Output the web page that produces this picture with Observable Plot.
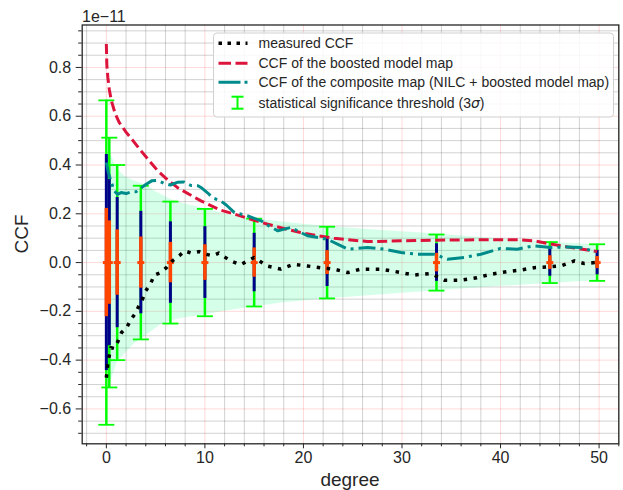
<!DOCTYPE html>
<html><head><meta charset="utf-8">
<script src="https://cdn.jsdelivr.net/npm/d3@7"></script>
<script src="https://cdn.jsdelivr.net/npm/@observablehq/plot@0.6"></script>
<style>
body{margin:0;background:#fff;}
#wrap{position:relative;width:623px;height:490px;font-family:"Liberation Sans",Arial,sans-serif;}
#overlay{position:absolute;left:0;top:0;pointer-events:none;}
</style></head><body><div id="wrap"></div>
<script>
// ---- data (units of 1e-11) ----
const measuredX = [0,0.18,0.46,0.8,1.2,1.54,2.1,2.5,3.0,3.3,3.67,4.0,4.5,4.85,5.5,6.1,6.7,7.4,7.96,8.6,9.4,10.1,10.8,11.4,12.6,13.6,15.0,16.3,17.7,19.0,20.4,21.7,23.1,24.5,25.8,27.9,29.9,31.2,32.9,34.3,36.0,37.6,39.0,40.7,42.0,43.4,44.8,46.1,47.5,48.5,49.6];
const measuredY = [-0.472,-0.404,-0.349,-0.352,-0.321,-0.287,-0.264,-0.233,-0.205,-0.178,-0.150,-0.116,-0.086,-0.052,-0.041,-0.021,0.007,0.028,0.048,0.039,0.045,0.034,0.028,0.039,0.007,-0.009,0.021,-0.014,-0.027,-0.007,-0.014,-0.021,-0.027,-0.041,-0.027,-0.027,-0.041,-0.051,-0.045,-0.072,-0.072,-0.062,-0.048,-0.037,-0.031,-0.021,-0.018,-0.014,0.007,-0.004,0.0];

const boostedX = [0,0.05,0.15,0.3,0.5,0.9,1.3,2.0,2.8,3.5,4.3,5.2,6.2,7.2,8.4,9.6,11.6,13,14.6,16.3,18,19.7,21.4,23.1,26.5,29.9,33.3,36.6,40,42,43.4,45.1,46.8,48.3,49.8];
const boostedY = [0.896,0.81,0.76,0.71,0.665,0.61,0.575,0.535,0.495,0.459,0.42,0.377,0.34,0.308,0.28,0.253,0.215,0.199,0.178,0.158,0.14,0.123,0.11,0.100,0.086,0.089,0.092,0.093,0.094,0.093,0.089,0.076,0.064,0.055,0.045];

const compositeX = [0,0.2,0.46,0.8,1.13,1.5,2.0,2.5,3.0,3.5,4.0,4.6,5.2,5.9,6.5,7.2,7.9,8.6,9.3,9.6,10.3,10.8,11.6,12.2,13.0,14.3,15.7,16.5,17.4,18.7,20.4,22.4,23.5,24.5,26.5,28.2,29.9,31.6,33.3,34.6,36.3,38.0,40.0,41.7,43.4,45.1,46.8,48.1,49.6];
const compositeY = [0.41,0.37,0.335,0.294,0.28,0.287,0.283,0.29,0.29,0.305,0.32,0.335,0.337,0.324,0.318,0.329,0.33,0.316,0.315,0.308,0.285,0.265,0.253,0.235,0.205,0.192,0.171,0.15,0.130,0.144,0.110,0.096,0.075,0.055,0.062,0.055,0.041,0.034,0.034,0.014,0.021,0.034,0.058,0.055,0.069,0.062,0.064,0.062,0.045];

const bandX     = [0.3,0.6,1.1,2.0,2.8,3.5,4.2,5.0,5.5,6.5,7.5,8.5,9.6,12,14.8,18,22.4,28,33.6,39,44.9,49.8];
const bandUpper = [0.46,0.43,0.385,0.35,0.335,0.325,0.315,0.29,0.281,0.26,0.246,0.235,0.225,0.20,0.18,0.165,0.148,0.132,0.117,0.10,0.083,0.073];
const bandLower = [-0.51,-0.47,-0.41,-0.37,-0.335,-0.315,-0.294,-0.27,-0.255,-0.24,-0.23,-0.223,-0.218,-0.20,-0.182,-0.165,-0.148,-0.132,-0.116,-0.10,-0.086,-0.075];

const errX    = [0,0.3,1.1,3.5,6.5,10,15,22.4,33.5,45,49.8];
const err3sig = [0.665,0.512,0.40,0.315,0.25,0.22,0.18,0.147,0.115,0.084,0.075];
const err2sig = [0.443,0.341,0.267,0.21,0.167,0.147,0.12,0.098,0.077,0.056,0.05];
const err1sig = [0.222,0.171,0.134,0.105,0.083,0.073,0.06,0.049,0.038,0.028,0.025];

const xMajorTicks = [0,10,20,30,40,50];
const xTickLabels = ["0","10","20","30","40","50"];
const yMajorTicks = [-0.6,-0.4,-0.2,0,0.2,0.4,0.6,0.8];
const yTickLabels = ["\u22120.6","\u22120.4","\u22120.2","0.0","0.2","0.4","0.6","0.8"];
const legendLabels = ["measured CCF","CCF of the boosted model map","CCF of the composite map (NILC + boosted model map)","statistical significance threshold (3"];

// ---- derived tables ----
const zip = (xs, ys) => xs.map((x, i) => ({x, y: ys[i]}));
const measured = zip(measuredX, measuredY);
const boosted = zip(boostedX, boostedY);
const composite = zip(compositeX, compositeY);
const band = bandX.map((x, i) => ({x, lo: bandLower[i], hi: bandUpper[i]}));
const errs = errX.map((x, i) => ({x, s3: err3sig[i], s2: err2sig[i], s1: err1sig[i]}));
const caps = errs.flatMap(d => [{x: d.x, y: d.s3}, {x: d.x, y: -d.s3}]);
const xMinorTicks = d3.range(-2, 53, 2).filter(v => v % 10 !== 0);
const yMinorTicks = d3.range(-14, 20).map(k => +(k * 0.05).toFixed(2)).filter(v => Math.abs(v * 5 - Math.round(v * 5)) > 1e-6);

const capSymbol = {draw(ctx) { ctx.moveTo(-8, 0); ctx.lineTo(8, 0); }};
const centerSymbol = {draw(ctx) { ctx.rect(-3.5, -1.5, 7, 3); }};

const GREEN = "#00ff00", NAVY = "#00008b", ORANGE = "#ff4500", RED = "#dc143c", TEAL = "#008b8b";

const chart = Plot.plot({
  width: 623, height: 490,
  marginLeft: 81.7, marginRight: 4.7, marginTop: 24.5, marginBottom: 46.7,
  style: {fontFamily: '"Liberation Sans", Arial, sans-serif', fontSize: "16px", color: "#262626", background: "#fff"},
  x: {domain: [-2.45, 52.0]},
  y: {domain: [-0.743, 0.974]},
  marks: [
    Plot.ruleX(xMinorTicks, {stroke: "#444", strokeOpacity: 0.35, strokeWidth: 0.7}),
    Plot.ruleY(yMinorTicks, {stroke: "#444", strokeOpacity: 0.35, strokeWidth: 0.7}),
    Plot.ruleX(xMajorTicks, {stroke: "#ff0000", strokeOpacity: 0.15, strokeWidth: 1}),
    Plot.ruleY(yMajorTicks, {stroke: "#ff0000", strokeOpacity: 0.15, strokeWidth: 1}),
    Plot.areaY(band, {x: "x", y1: "lo", y2: "hi", fill: "#00ff7f", fillOpacity: 0.16}),
    Plot.ruleX(errs, {x: "x", y1: d => -d.s3, y2: "s3", stroke: GREEN, strokeWidth: 2.5}),
    Plot.dot(caps, {x: "x", y: "y", symbol: capSymbol, fill: "none", stroke: GREEN, strokeWidth: 1.8}),
    Plot.ruleX(errs, {x: "x", y1: d => -d.s2, y2: "s2", stroke: NAVY, strokeWidth: 3}),
    Plot.ruleX(errs, {x: "x", y1: d => -d.s1, y2: "s1", stroke: ORANGE, strokeWidth: 3.5}),
    Plot.dot(errs, {x: "x", y: () => 0, symbol: centerSymbol, fill: ORANGE, stroke: "none"}),
    Plot.line(measured, {x: "x", y: "y", stroke: "#000", strokeWidth: 3.5, strokeDasharray: "3.5,6.5", strokeLinecap: "butt"}),
    Plot.line(boosted, {x: "x", y: "y", stroke: RED, strokeWidth: 3, strokeDasharray: "10,4.5", strokeLinecap: "butt"}),
    Plot.line(composite, {x: "x", y: "y", stroke: TEAL, strokeWidth: 3, strokeDasharray: "17,5,3,5", strokeLinecap: "butt"}),
    Plot.frame({stroke: "#262626", strokeWidth: 1.3}),
    Plot.axisX(xMinorTicks, {tickSize: 3, text: null, label: null}),
    Plot.axisX(xMajorTicks, {tickSize: 5, tickPadding: 3, label: null, tickFormat: d => xTickLabels[xMajorTicks.indexOf(d)]}),
    Plot.axisY(yMinorTicks, {tickSize: 3.5, text: null, label: null}),
    Plot.axisY(yMajorTicks, {tickSize: 6, tickPadding: 5, label: null, tickFormat: d => yTickLabels[yMajorTicks.indexOf(d)]})
  ]
});

const wrap = document.getElementById("wrap");
wrap.appendChild(chart);

// overlay: legend, axis labels, offset text
const ns = "http://www.w3.org/2000/svg";
const ov = d3.select(wrap).append("svg").attr("id", "overlay").attr("width", 623).attr("height", 490)
  .style("font-family", '"Liberation Sans", Arial, sans-serif').style("fill", "#262626");

ov.append("text").attr("x", 82).attr("y", 21.5).attr("font-size", 16).text("1e\u221211");
ov.append("text").attr("x", 350).attr("y", 486).attr("font-size", 19).attr("text-anchor", "middle").text("degree");
ov.append("text").attr("transform", "translate(28,234) rotate(-90)").attr("font-size", 19).attr("text-anchor", "middle").text("CCF");

const lg = ov.append("g").attr("transform", "translate(213.5,33)");
lg.append("rect").attr("width", 400).attr("height", 84).attr("rx", 3.5)
  .attr("fill", "#fff").attr("fill-opacity", 0.85).attr("stroke", "#d0d0d0").attr("stroke-width", 1);
const rowY = [10.3, 30.3, 49.3, 69.7];
lg.append("line").attr("x1", 5).attr("x2", 34).attr("y1", rowY[0]).attr("y2", rowY[0])
  .attr("stroke", "#000").attr("stroke-width", 3.5).attr("stroke-dasharray", "3.5,5.5");
lg.append("line").attr("x1", 5).attr("x2", 34).attr("y1", rowY[1]).attr("y2", rowY[1])
  .attr("stroke", RED).attr("stroke-width", 3).attr("stroke-dasharray", "12.5,4.5");
lg.append("line").attr("x1", 5).attr("x2", 34).attr("y1", rowY[2]).attr("y2", rowY[2])
  .attr("stroke", TEAL).attr("stroke-width", 3).attr("stroke-dasharray", "22,4,3,5");
const eg = lg.append("g").attr("stroke", GREEN).attr("stroke-width", 2);
eg.append("line").attr("x1", 24).attr("x2", 24).attr("y1", rowY[3] - 6).attr("y2", rowY[3] + 6);
eg.append("line").attr("x1", 18).attr("x2", 30).attr("y1", rowY[3] - 6).attr("y2", rowY[3] - 6);
eg.append("line").attr("x1", 18).attr("x2", 30).attr("y1", rowY[3] + 6).attr("y2", rowY[3] + 6);
legendLabels.forEach((t, i) => {
  const tx = lg.append("text").attr("x", 45).attr("y", rowY[i]).attr("dy", "0.35em").attr("font-size", 14).text(t);
  if (i === 3) {
    tx.append("tspan").attr("font-style", "italic").attr("font-family", "DejaVu Sans").text("\u03c3");
    tx.append("tspan").text(")");
  }
});
</script></body></html>
